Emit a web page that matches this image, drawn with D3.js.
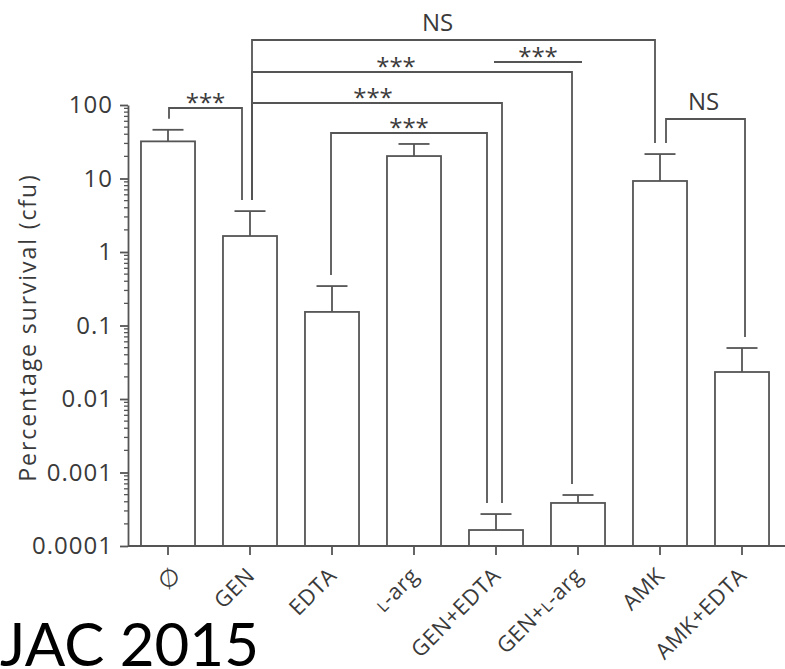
<!DOCTYPE html>
<html>
<head>
<meta charset="utf-8">
<script src="https://cdn.jsdelivr.net/npm/d3@7"></script>
<style>
  html, body { margin: 0; padding: 0; background: #fff; }
  svg { display: block; }
  text { font-family: "Open Sans", "DejaVu Sans", sans-serif; fill: #3a3a3a; }
</style>
</head>
<body>
<svg id="chart" width="785" height="669"></svg>
<script>
// Treatment groups (∅ = untreated control)
const categories = ["∅", "GEN", "EDTA", "L-arg", "GEN+EDTA", "GEN+L-arg", "AMK", "AMK+EDTA"];
// Mean percentage survival (cfu) per group
const survivalMean = [32, 1.65, 0.153, 20.2, 0.000165, 0.000385, 9.25, 0.0233];
// Upper end of the error bar per group
const survivalUpper = [46, 3.6, 0.344, 29.5, 0.000272, 0.000494, 21.5, 0.0494];
// Log axis ticks
const yTicks = [0.0001, 0.001, 0.01, 0.1, 1, 10, 100];
const yTickLabels = ["0.0001", "0.001", "0.01", "0.1", "1", "10", "100"];
// Pairwise comparisons and their significance
const comparisonA = ["∅", "GEN", "GEN", "GEN", "EDTA", "GEN+EDTA", "AMK"];
const comparisonB = ["GEN", "AMK", "GEN+L-arg", "GEN+EDTA", "GEN+EDTA", "GEN+L-arg", "AMK+EDTA"];
const comparisonLabel = ["***", "NS", "***", "***", "***", "***", "NS"];

const svg = d3.select("#chart");
const stroke = "#555";
const lw = 1.8;

const x = d3.scaleBand()
  .domain(categories)
  .range([127, 783])
  .paddingInner(0.341)
  .paddingOuter(0.1705);

const y = d3.scaleLog().domain([1e-4, 100]).range([546, 105]);

const cx = c => x(c) + x.bandwidth() / 2;
const idx = c => categories.indexOf(c);

// Bars
svg.append("g").selectAll("rect")
  .data(categories)
  .join("rect")
  .attr("x", d => x(d))
  .attr("width", x.bandwidth())
  .attr("y", (d, i) => y(survivalMean[i]))
  .attr("height", (d, i) => y(1e-4) - y(survivalMean[i]))
  .attr("fill", "#fff")
  .attr("stroke", stroke)
  .attr("stroke-width", lw);

// Upper error bars
const eb = svg.append("g").attr("stroke", stroke).attr("stroke-width", lw);
categories.forEach((c, i) => {
  eb.append("line")
    .attr("x1", cx(c)).attr("x2", cx(c))
    .attr("y1", y(survivalMean[i])).attr("y2", y(survivalUpper[i]));
  eb.append("line")
    .attr("x1", cx(c) - 15.5).attr("x2", cx(c) + 15.5)
    .attr("y1", y(survivalUpper[i])).attr("y2", y(survivalUpper[i]));
});

// Y axis: major and minor log ticks
const minorTicks = [];
for (let e = -4; e < 2; e++) {
  for (let m = 2; m <= 9; m++) minorTicks.push(m * Math.pow(10, e));
}
const yAxisG = svg.append("g").attr("transform", "translate(128,0)");
yAxisG.call(d3.axisLeft(y).tickValues(yTicks)
  .tickFormat((d, i) => yTickLabels[i]).tickSize(8).tickPadding(7).tickSizeOuter(0));
yAxisG.append("g").selectAll("line")
  .data(minorTicks).join("line")
  .attr("x1", -4).attr("x2", 0)
  .attr("y1", d => y(d)).attr("y2", d => y(d))
  .attr("stroke", stroke).attr("stroke-width", 1.3);
yAxisG.select(".domain").attr("stroke", stroke).attr("stroke-width", lw);
yAxisG.selectAll(".tick line").attr("stroke", stroke).attr("stroke-width", lw);
yAxisG.selectAll(".tick text")
  .style("font-family", "'Open Sans', sans-serif")
  .style("font-size", "24px")
  .style("letter-spacing", "1px")
  .attr("fill", "#3a3a3a");

// X axis baseline and ticks
svg.append("line")
  .attr("x1", 128).attr("x2", 785)
  .attr("y1", y(1e-4)).attr("y2", y(1e-4))
  .attr("stroke", stroke).attr("stroke-width", lw);
svg.append("g").selectAll("line")
  .data(categories).join("line")
  .attr("x1", d => cx(d)).attr("x2", d => cx(d))
  .attr("y1", y(1e-4)).attr("y2", y(1e-4) + 9)
  .attr("stroke", stroke).attr("stroke-width", lw);

// Rotated category labels (the L of L-arg is a small capital)
const xlG = svg.append("g").selectAll("g")
  .data(categories).join("g")
  .attr("transform", d => d.length === 1
    ? `translate(${cx(d) + 1},${y(1e-4) + 32})`
    : `translate(${cx(d) + 6},${y(1e-4) + 31})`);
xlG.append("text")
  .attr("transform", "rotate(-45)")
  .attr("text-anchor", d => d.length === 1 ? "middle" : "end")
  .attr("dy", d => d.length === 1 ? "0.35em" : null)
  .style("font-size", d => d.length === 1 ? "24px" : "22px")
  .style("letter-spacing", "0.5px")
  .each(function(d) {
    const t = d3.select(this);
    const parts = d.split("L-");
    if (parts.length === 2) {
      t.append("tspan").text(parts[0]);
      t.append("tspan").style("font-size", "16px").text("L");
      t.append("tspan").text("-" + parts[1]);
    } else {
      t.text(d);
    }
  });

// Axis title
svg.append("text")
  .attr("transform", `translate(36,${(y(100) + y(1e-4)) / 2 + 2}) rotate(-90)`)
  .attr("text-anchor", "middle")
  .style("font-size", "23px")
  .style("letter-spacing", "1.9px")
  .text("Percentage survival (cfu)");

// Significance brackets: level, leg offsets, label offset, legs drawn or not
const bracketLayout = [
  { level: 108, dA: 1,  dB: -8, lx: 0,   legs: true },
  { level: 40,  dA: 2,  dB: -5, lx: -16, legs: true },
  { level: 72,  dA: 2,  dB: -6, lx: -16, legs: true },
  { level: 103, dA: 2,  dB: 6,  lx: -4,  legs: true },
  { level: 133, dA: -1, dB: -9, lx: 0,   legs: true },
  { level: 62,  dA: -2, dB: 4,  lx: 0,   legs: false },
  { level: 119, dA: 6,  dB: 3,  lx: -2,  legs: true }
];
const br = svg.append("g");
comparisonA.forEach((a, i) => {
  const b = comparisonB[i];
  const L = bracketLayout[i];
  const xa = cx(a) + L.dA, xb = cx(b) + L.dB;
  const ya = y(survivalUpper[idx(a)]) - 11;
  const yb = y(survivalUpper[idx(b)]) - 11;
  const path = L.legs
    ? `M${xa},${ya}V${L.level}H${xb}V${yb}`
    : `M${xa},${L.level}H${xb}`;
  br.append("path").attr("d", path)
    .attr("fill", "none").attr("stroke", stroke).attr("stroke-width", lw);
  const isStars = comparisonLabel[i] === "***";
  br.append("text")
    .attr("x", (xa + xb) / 2 + L.lx)
    .attr("y", isStars ? L.level + 3 : L.level - 9)
    .attr("text-anchor", "middle")
    .style("font-size", "24px")
    .text(comparisonLabel[i]);
});

// Source note
svg.append("text")
  .attr("x", 0).attr("y", 666)
  .style("font-family", "Lato, 'Open Sans', sans-serif")
  .style("font-size", "60px")
  .style("fill", "#000")
  .text("JAC 2015");
</script>
</body>
</html>
